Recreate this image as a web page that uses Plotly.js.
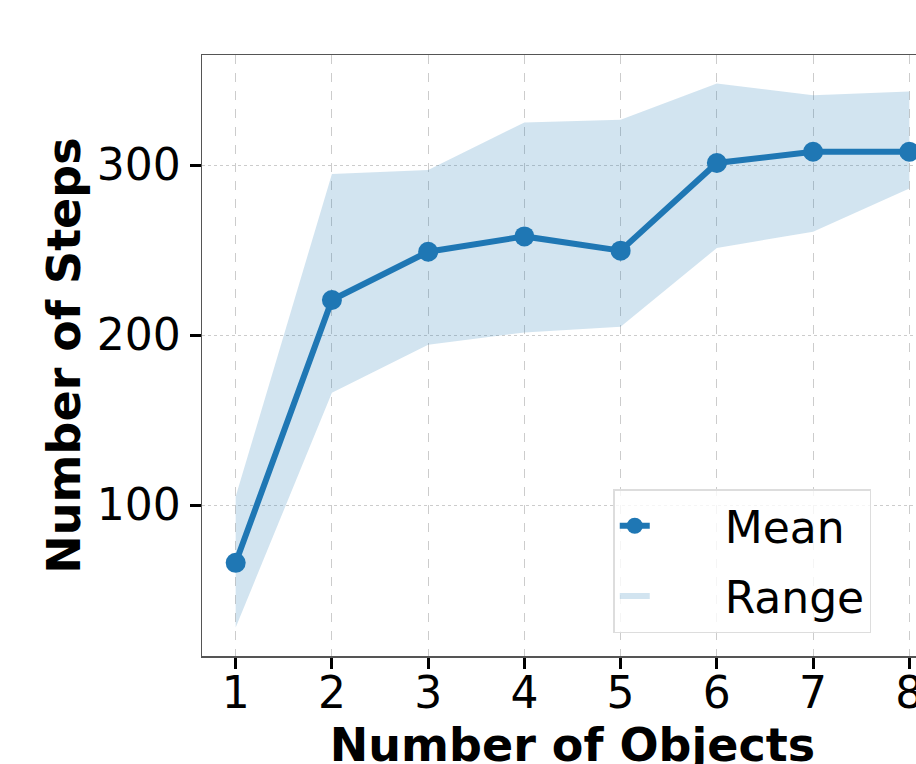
<!DOCTYPE html>
<html>
<head>
<meta charset="utf-8">
<script src="https://cdn.plot.ly/plotly-3.0.1.min.js"></script>
<style>
html,body{margin:0;padding:0;overflow:hidden;background:#fff;}
#chart{width:1000px;height:790px;}
</style>
</head>
<body>
<div id="chart"></div>
<script>
const objects = [1, 2, 3, 4, 5, 6, 7, 8];
const meanSteps = [66, 220.6, 249, 258, 249.6, 301.2, 307.8, 307.8];
const maxSteps = [105, 294.7, 297, 325, 326.6, 348, 341, 343.3];
const minSteps = [28, 166, 194.3, 201.5, 204.9, 251.2, 260.8, 286.2];
const yTicks = [100, 200, 300];
const seriesNames = ['Mean', 'Range'];

const blue = '#1f77b4';
const bandX = objects.concat(objects.slice().reverse());
const bandY = maxSteps.concat(minSteps.slice().reverse());
const pad = '\u00a0\u00a0\u00a0\u00a0\u00a0';

const data = [
  {
    x: bandX, y: bandY, type: 'scatter', mode: 'none',
    fill: 'toself', fillcolor: 'rgba(31,119,180,0.2)',
    name: pad + seriesNames[1], legendrank: 2, legendgroup: 'b', hoverinfo: 'skip'
  },
  {
    x: objects, y: meanSteps, type: 'scatter', mode: 'lines+markers',
    line: {color: blue, width: 6},
    marker: {color: blue, size: 20},
    name: pad + seriesNames[0], legendrank: 1, legendgroup: 'a'
  }
];

const font = {family: 'DejaVu Sans', color: '#000'};

const layout = {
  width: 1000, height: 790,
  margin: {l: 202, r: 57, t: 55, b: 134},
  paper_bgcolor: '#fff', plot_bgcolor: '#fff',
  font: font,
  showlegend: true,
  xaxis: {
    range: [0.65, 8.35],
    tickvals: objects, ticktext: objects.map(String),
    ticks: 'outside', ticklen: 11, tickwidth: 3, tickcolor: '#000',
    tickfont: {family: 'DejaVu Sans', size: 44, color: '#000'},
    ticklabelstandoff: -13,
    showline: true, linecolor: '#555', linewidth: 1.5, mirror: true,
    showgrid: true, gridcolor: '#cccccc', gridwidth: 1, griddash: 'dash',
    zeroline: false,
    title: {text: 'Number of Objects', font: {family: 'DejaVu Sans', size: 46, color: '#000', weight: 'bold'}, standoff: 9}
  },
  yaxis: {
    range: [11.2, 364.7],
    tickvals: yTicks, ticktext: yTicks.map(String),
    ticks: 'outside', ticklen: 11, tickwidth: 3, tickcolor: '#000',
    tickfont: {family: 'DejaVu Sans', size: 44, color: '#000'},
    showline: true, linecolor: '#555', linewidth: 1.5, mirror: true,
    showgrid: true, gridcolor: '#cccccc', gridwidth: 1, griddash: 'dot',
    zeroline: false,
    title: {text: 'Number of Steps', font: {family: 'DejaVu Sans', size: 46, color: '#000', weight: 'bold'}, standoff: 1}
  },
  legend: {
    x: 0.555, y: 0.038, xanchor: 'left', yanchor: 'bottom',
    bgcolor: 'rgba(255,255,255,0.8)', bordercolor: '#dddddd', borderwidth: 1.5,
    font: {family: 'DejaVu Sans', size: 44, color: '#000'},
    traceorder: 'grouped', tracegroupgap: 10
  }
};

Plotly.newPlot('chart', data, layout, {displayModeBar: false, staticPlot: true});
</script>
</body>
</html>
